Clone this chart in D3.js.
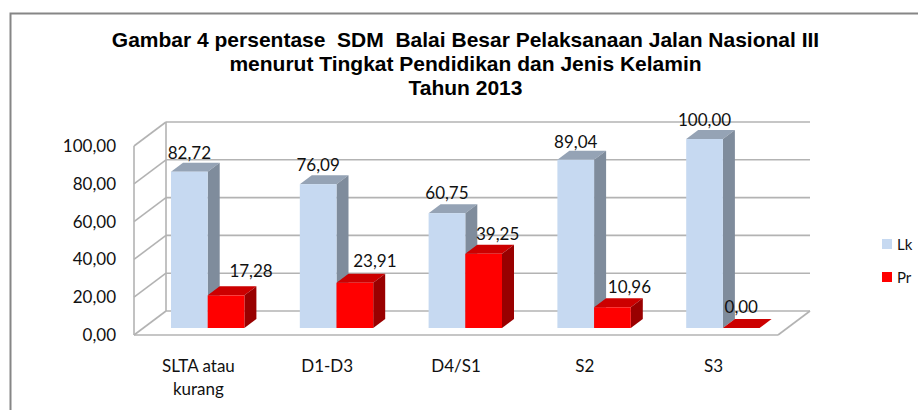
<!DOCTYPE html>
<html>
<head>
<meta charset="utf-8">
<script src="https://cdn.jsdelivr.net/npm/d3@7"></script>
<style>
  html, body { margin: 0; padding: 0; background: #fff; }
  svg { display: block; }
</style>
</head>
<body>
<div id="chart"></div>
<script>
const categories = ["SLTA atau|kurang", "D1-D3", "D4/S1", "S2", "S3"];
const seriesNames = ["Lk", "Pr"];
const lk = [82.72, 76.09, 60.75, 89.04, 100.00];
const pr = [17.28, 23.91, 39.25, 10.96, 0.00];
const yTicks = [0, 20, 40, 60, 80, 100];
const titleLines = [
    "Gambar 4 persentase  SDM  Balai Besar Pelaksanaan Jalan Nasional III",
    "menurut Tingkat Pendidikan dan Jenis Kelamin",
    "Tahun 2013"
];

const width = 918, height = 410;
const depthX = 32, depthY = 24;   // floor depth
const barDX = 12, barDY = 9;      // bar depth
const fmt = v => v.toFixed(2).replace(".", ",");

const svg = d3.select("#chart").append("svg")
    .attr("width", width)
    .attr("height", height);

// chart frame, only left and top are inside the picture
svg.append("path")
    .attr("d", "M10.5,410V13.5H918")
    .attr("fill", "none")
    .attr("stroke", "#868686")
    .attr("stroke-width", 2);

// title
svg.append("g").selectAll("text")
    .data(titleLines)
    .join("text")
    .attr("x", 465.5)
    .attr("y", (d, i) => [47, 71, 95][i])
    .attr("text-anchor", "middle")
    .attr("font-family", "Liberation Sans")
    .attr("font-weight", "bold")
    .attr("font-size", 21)
    .attr("xml:space", "preserve")
    .text(d => d);

// scales
const x = d3.scaleBand().domain(categories).range([134, 778]);
const y = d3.scaleLinear().domain([0, 100]).range([335, 146]);   // axis on the front edge
const yBar = d3.scaleLinear().domain([0, 100]).range([328, 139]); // bars stand inside the floor

// walls
const wall = svg.append("g").attr("fill", "none").attr("stroke", "#b3b3b3").attr("stroke-width", 1.6);
wall.selectAll("line.grid")
    .data(yTicks)
    .join("line")
    .attr("class", "grid")
    .attr("x1", x.range()[0] + depthX)
    .attr("x2", x.range()[1] + depthX)
    .attr("y1", d => y(d) - depthY)
    .attr("y2", d => y(d) - depthY);
wall.selectAll("line.side")
    .data(yTicks)
    .join("line")
    .attr("class", "side")
    .attr("x1", x.range()[0])
    .attr("x2", x.range()[0] + depthX)
    .attr("y1", d => y(d))
    .attr("y2", d => y(d) - depthY);
wall.append("line")
    .attr("x1", x.range()[0]).attr("x2", x.range()[0])
    .attr("y1", y(0)).attr("y2", y(100));
wall.append("line")
    .attr("x1", x.range()[0] + depthX).attr("x2", x.range()[0] + depthX)
    .attr("y1", y(0) - depthY).attr("y2", y(100) - depthY);
wall.append("line")
    .attr("x1", x.range()[0]).attr("x2", x.range()[1])
    .attr("y1", y(0)).attr("y2", y(0));
wall.append("line")
    .attr("x1", x.range()[1]).attr("x2", x.range()[1] + depthX)
    .attr("y1", y(0)).attr("y2", y(0) - depthY);

// y axis labels
svg.append("g").selectAll("text")
    .data(yTicks)
    .join("text")
    .attr("x", 116)
    .attr("y", d => y(d) + 6)
    .attr("text-anchor", "end")
    .attr("font-family", "Lato")
    .attr("font-size", 17)
    .attr("fill", "#111")
    .text(fmt);

// category labels
const catLabels = svg.append("g").selectAll("text")
    .data(categories)
    .join("text")
    .attr("y", 372)
    .attr("text-anchor", "middle")
    .attr("font-family", "Lato")
    .attr("font-size", 17)
    .attr("fill", "#111");
catLabels.selectAll("tspan")
    .data(d => d.split("|").map(t => ({ t, c: d })))
    .join("tspan")
    .attr("x", d => x(d.c) + x.bandwidth() / 2)
    .attr("dy", (d, i) => i ? 22.5 : 0)
    .text(d => d.t);

// bars
const barW = 36.7;
const bars = [
    { name: "Lk", values: lk, front: "#c6d9f1", top: "#95a3b5", side: "#7f8c9c", off: 37, nudgeX: [0, 0, 0, 0, 0], nudgeY: [13, 13, 14, 12, 13] },
    { name: "Pr", values: pr, front: "#ff0000", top: "#cc0000", side: "#990000", off: 73.7, nudgeX: [25, 20, 14, 17, 0], nudgeY: [18, 16, 14, 14, 15] }
];
function drawBar(g, x0, x1, y0, y1, s) {
    g.append("polygon")
        .attr("points", [[x0, y1], [x0 + barDX, y1 - barDY], [x1 + barDX, y1 - barDY], [x1, y1]].join(" "))
        .attr("fill", s.top);
    g.append("polygon")
        .attr("points", [[x1, y1], [x1 + barDX, y1 - barDY], [x1 + barDX, y0 - barDY], [x1, y0]].join(" "))
        .attr("fill", s.side);
    g.append("rect")
        .attr("x", x0).attr("y", y1)
        .attr("width", x1 - x0).attr("height", y0 - y1)
        .attr("fill", s.front);
}
const barG = svg.append("g");
categories.forEach((c, i) => {
    bars.forEach(s => {
        const x0 = x(c) + s.off;
        drawBar(barG, x0, x0 + barW, yBar(0), yBar(s.values[i]), s);
    });
});

// value labels
const valueG = svg.append("g")
    .attr("font-family", "Lato")
    .attr("font-size", 17)
    .attr("fill", "#111")
    .attr("text-anchor", "middle");
categories.forEach((c, i) => {
    bars.forEach(s => {
        valueG.append("text")
            .attr("x", x(c) + s.off + barW / 2 + s.nudgeX[i])
            .attr("y", yBar(s.values[i]) - s.nudgeY[i])
            .text(fmt(s.values[i]));
    });
});

// legend
const legend = svg.append("g").selectAll("g")
    .data(seriesNames)
    .join("g")
    .attr("transform", (d, i) => `translate(882,${239 + i * 33})`);
legend.append("rect")
    .attr("width", 10).attr("height", 10)
    .attr("fill", (d, i) => bars[i].front);
legend.append("text")
    .attr("x", 15).attr("y", 11)
    .attr("font-family", "Lato")
    .attr("font-size", 15)
    .attr("fill", "#111")
    .text(d => d);
</script>
</body>
</html>
